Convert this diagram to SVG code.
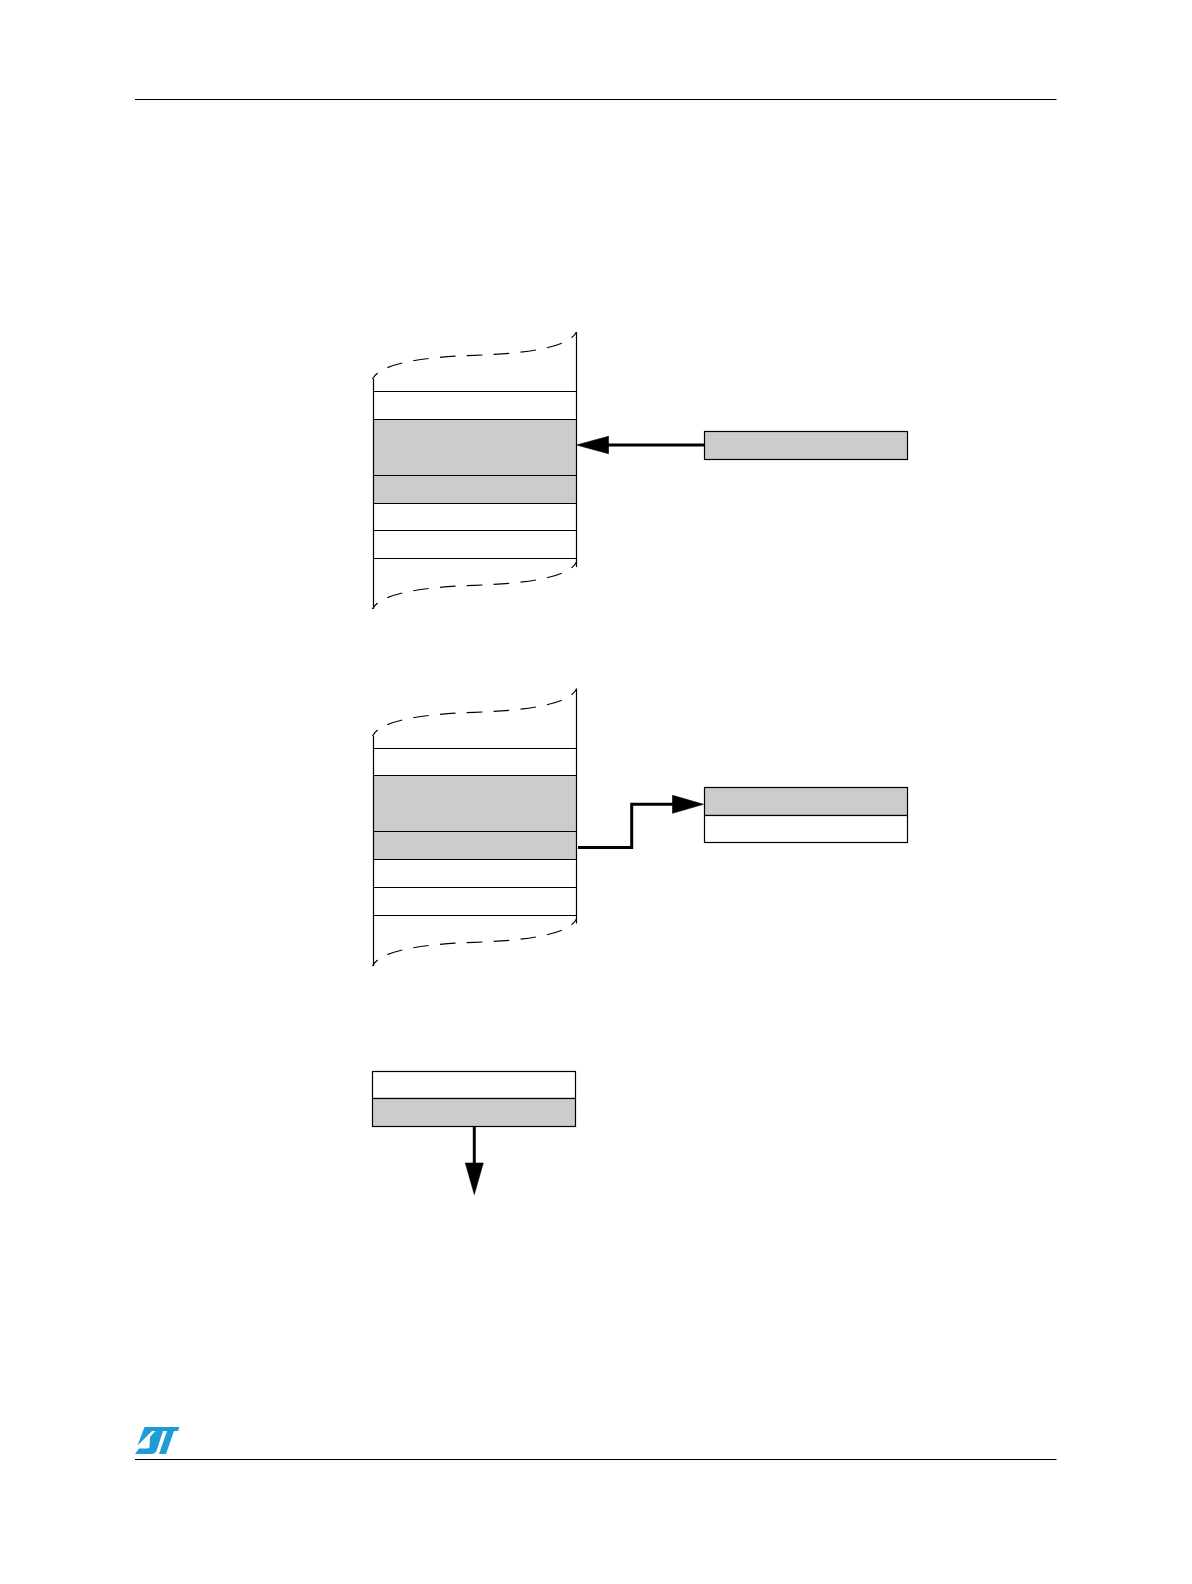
<svg xmlns="http://www.w3.org/2000/svg" width="1192" height="1584" viewBox="0 0 1192 1584">
<style>
.rule{stroke:#000;stroke-width:1.2;fill:none}
.ln{stroke:#000;stroke-width:1.2;fill:none}
.wave{stroke:#000;stroke-width:1.2;fill:none;stroke-dasharray:15.5 11.3;stroke-dashoffset:7.5}
.g{fill:#ccc;stroke:none}
.box{stroke:#000;stroke-width:1.2}
.w{fill:#fff}
.gb{fill:#ccc}
.wire{stroke:#000;stroke-width:3;fill:none}
.head{fill:#000;stroke:#000;stroke-width:.6}
.logo{fill:#1f9bd8;stroke:none}
</style>
<g id="header-rule"><path class="rule" d="M135 99.5H1056.5"/></g>
<g id="footer-rule"><path class="rule" d="M135 1459.5H1056.5"/></g>
<g id="logo">
<path class="logo" d="M144.5 1427H179.5L178 1431H174L166 1454H159L167 1431H152L137.5 1445.5Z"/>
<path class="logo" d="M155.5 1431H163L157 1449.5Q155.5 1454 151 1454H135L139 1448.5H147Q149 1448.5 149.5 1447L150 1437Z"/>
</g>
<g id="stack-1">
<rect class="g" x="373.5" y="419.5" width="203" height="84"/>
<path class="ln" d="M373.5 379V609M576.5 332V567"/>
<path class="ln" d="M373.5 391.5H576.5M373.5 419.5H576.5M373.5 475.5H576.5M373.5 503.5H576.5M373.5 530.5H576.5M373.5 558.5H576.5"/>
<path class="wave" d="M372.5 379C380 364 420 357 474.5 355.3S569 347 576.5 332"/>
<path class="wave" d="M372.5 609C380 594 420 587 474.5 585.3S569 577 576.5 562"/>
</g>
<g id="stack-2">
<rect class="g" x="373.5" y="775.5" width="203" height="84"/>
<path class="ln" d="M373.5 736V966M576.5 688.5V923.5"/>
<path class="ln" d="M373.5 748.5H576.5M373.5 775.5H576.5M373.5 831.5H576.5M373.5 859.5H576.5M373.5 887.5H576.5M373.5 915.5H576.5"/>
<path class="wave" d="M372.5 736C380 721 420 714 474.5 712.3S569 704 576.5 689"/>
<path class="wave" d="M372.5 966C380 951 420 944 474.5 942.3S569 934 576.5 919"/>
</g>
<g id="box-1"><rect class="box gb" x="704.5" y="431.5" width="203" height="28"/></g>
<g id="box-2">
<rect class="box gb" x="704.5" y="787.5" width="203" height="28"/>
<rect class="box w" x="704.5" y="815.5" width="203" height="27"/>
</g>
<g id="box-3">
<rect class="box w" x="372.5" y="1071.5" width="203" height="27"/>
<rect class="box gb" x="372.5" y="1098.5" width="203" height="28"/>
</g>
<g id="connectors">
<path class="wire" d="M704 445H606"/>
<path class="head" d="M576.5 445L608.5 436.3V453.7Z"/>
<path class="wire" d="M578 847.5H631.7V804.3H674"/>
<path class="head" d="M703.5 804.3L672.5 795.3V813.3Z"/>
<path class="wire" d="M474.3 1126.5V1165"/>
<path class="head" d="M474.3 1194.5L465.3 1163H483.3Z"/>
</g>
</svg>
